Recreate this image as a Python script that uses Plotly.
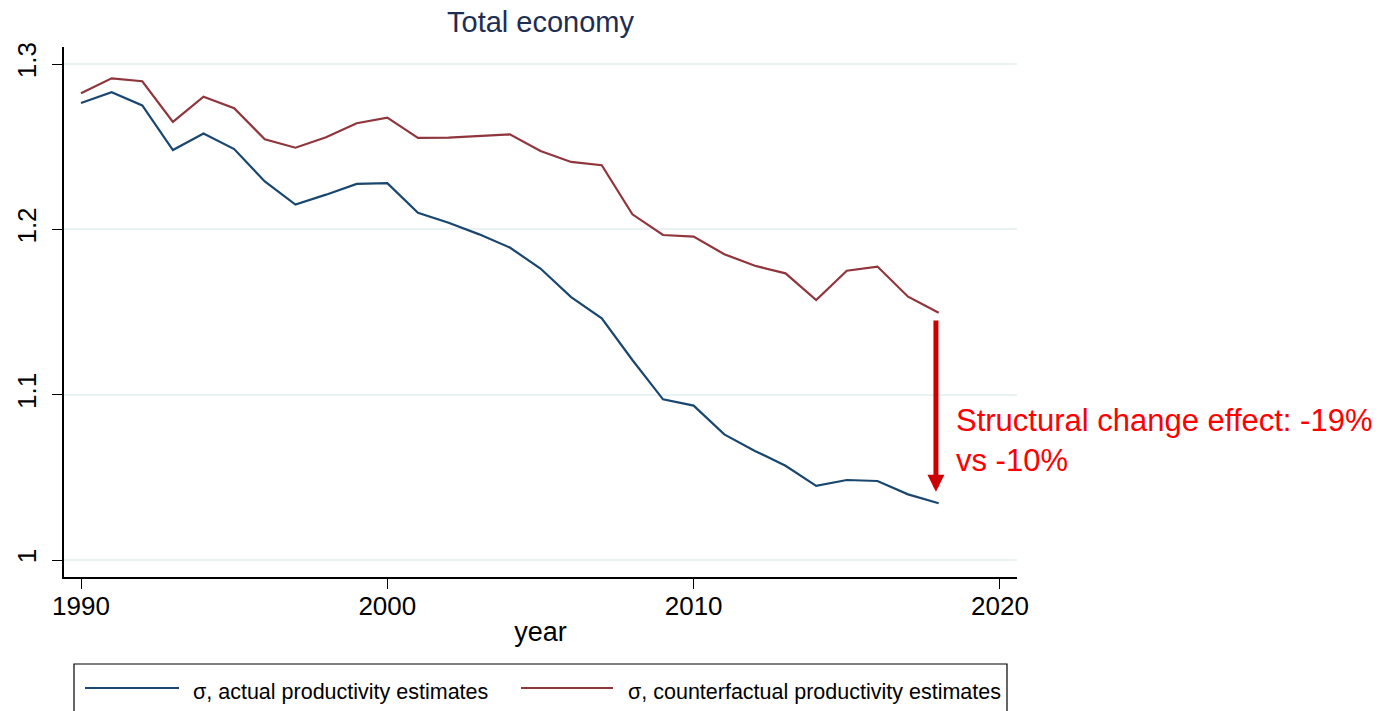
import plotly.graph_objects as go

years = list(range(1990, 2019))
sigma_actual = [1.2765, 1.283, 1.275, 1.248, 1.258, 1.2486, 1.229, 1.215, 1.221, 1.2275,
                1.228, 1.210, 1.204, 1.197, 1.189, 1.1763, 1.159, 1.1462, 1.121, 1.0972,
                1.0934, 1.076, 1.066, 1.057, 1.0448, 1.0484, 1.0478, 1.0397, 1.0343]
sigma_counterfactual = [1.2824, 1.2914, 1.2896, 1.265, 1.2803, 1.2733, 1.2545, 1.2494, 1.2557, 1.2642,
                        1.2676, 1.2553, 1.2555, 1.2565, 1.2575, 1.2474, 1.2408, 1.2388, 1.2091, 1.1966,
                        1.1956, 1.185, 1.178, 1.1734, 1.1573, 1.175, 1.1775, 1.1593, 1.1496]

x_ticks = [1990, 2000, 2010, 2020]
y_ticks = [1.0, 1.1, 1.2, 1.3]
y_tick_labels = ["1", "1.1", "1.2", "1.3"]

name_actual = "σ, actual productivity estimates"
name_counter = "σ, counterfactual productivity estimates"
title_text = "Total economy"
note_text = "Structural change effect: -19%<br>vs -10%"

arrow_x = 2017.91
arrow_from = 1.1458
arrow_to = 1.0413

BLUE = "#1a476f"
RED = "#90353b"
FONT = "Liberation Sans, Arial, sans-serif"

fig = go.Figure()
fig.add_trace(go.Scatter(x=years, y=sigma_actual, mode="lines", name=name_actual,
                         line=dict(color=BLUE, width=2.2), showlegend=False))
fig.add_trace(go.Scatter(x=years, y=sigma_counterfactual, mode="lines", name=name_counter,
                         line=dict(color=RED, width=2.2), showlegend=False))

W, H = 1394, 711
L, R, T, B = 64, 377, 47, 134
pw, ph = W - L - R, H - T - B

def px_x(p):
    return (p - L) / pw

def px_y(p):
    return (H - B - p) / ph

# arrow
fig.add_annotation(x=arrow_x, y=arrow_to, ax=arrow_x, ay=arrow_from, xref="x", yref="y",
                   axref="x", ayref="y", showarrow=True, arrowhead=2, arrowsize=0.68,
                   arrowwidth=5, arrowcolor="#cc0000", text="")
fig.add_annotation(x=px_x(954), y=1.072, xref="paper", yref="y", xanchor="left", yanchor="middle",
                   align="left", showarrow=False, text=note_text,
                   font=dict(family=FONT, size=31, color="#ff0000"))

# manual legend
shapes = [
    dict(type="rect", xref="paper", yref="paper", x0=px_x(74), x1=px_x(1007),
         y0=px_y(664), y1=px_y(725), line=dict(color="black", width=1.2), fillcolor="rgba(0,0,0,0)"),
    dict(type="line", xref="paper", yref="paper", x0=px_x(85), x1=px_x(179),
         y0=px_y(688), y1=px_y(688), line=dict(color=BLUE, width=2.2)),
    dict(type="line", xref="paper", yref="paper", x0=px_x(521), x1=px_x(613),
         y0=px_y(688), y1=px_y(688), line=dict(color=RED, width=2.2)),
]
fig.add_annotation(x=px_x(191), y=px_y(692), xref="paper", yref="paper", xanchor="left",
                   yanchor="middle", showarrow=False, text=name_actual,
                   font=dict(family=FONT, size=21.5, color="black"))
fig.add_annotation(x=px_x(626), y=px_y(692), xref="paper", yref="paper", xanchor="left",
                   yanchor="middle", showarrow=False, text=name_counter,
                   font=dict(family=FONT, size=21.5, color="black"))

fig.update_layout(
    width=W, height=H,
    margin=dict(l=L, r=R, t=T, b=B),
    paper_bgcolor="white", plot_bgcolor="white",
    shapes=shapes,
    title=dict(text=title_text, x=(L + pw / 2) / W, xanchor="center", y=1 - 22 / H,
               yanchor="middle", yref="container",
               font=dict(family=FONT, size=29, color="#1e2d52")),
    font=dict(family=FONT, color="black"),
)
fig.update_xaxes(range=[1989.445, 2020.556], tickvals=x_ticks, ticks="outside", ticklen=10,
                 tickcolor="black", tickwidth=1.2, showgrid=False, zeroline=False,
                 showline=True, linecolor="black", linewidth=1.5, ticklabelstandoff=-5,
                 tickfont=dict(family=FONT, size=26, color="black"),
                 title=dict(text="year", font=dict(family=FONT, size=27, color="black"), standoff=2))
fig.update_yaxes(range=[0.98972, 1.31033], tickvals=y_ticks, ticktext=y_tick_labels,
                 ticks="outside", ticklen=10, tickcolor="black", tickwidth=1.2,
                 tickangle=-90, showgrid=True, gridcolor="#eaf2f3", gridwidth=2,
                 zeroline=False, showline=True, linecolor="black", linewidth=1.5,
                 ticklabelstandoff=6,
                 tickfont=dict(family=FONT, size=26, color="black"))

fig.write_html("out.html")
